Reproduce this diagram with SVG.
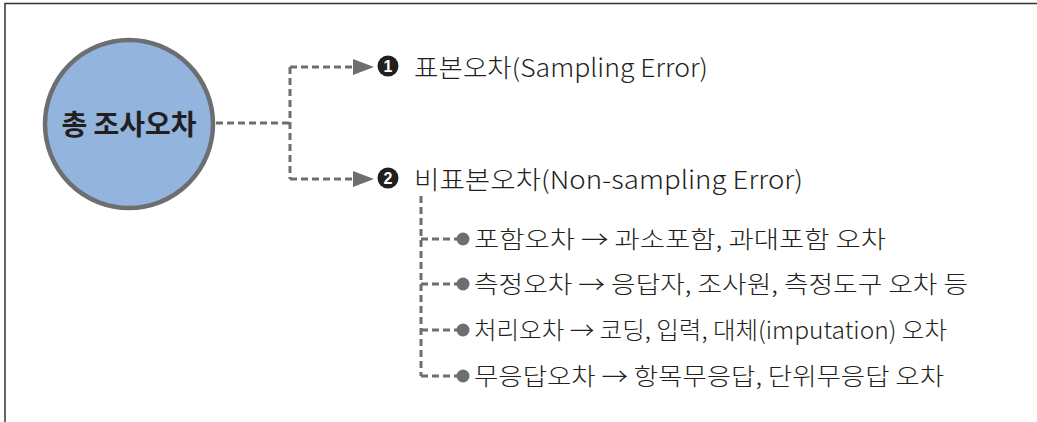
<svg xmlns="http://www.w3.org/2000/svg" width="1037" height="422" viewBox="0 0 1037 422">
  <style>
    .t { font-family: "Noto Sans CJK KR", "Noto Sans", sans-serif; fill: #231f20; font-weight: 300; }
    .h { font-size: 25px; }
    .r { font-size: 24px; }
    .c { stroke: #6d6e71; stroke-width: 3; fill: none; stroke-dasharray: 7 4; }
    .nb { fill: #231f20; }
    .nt { font-family: "Liberation Sans", sans-serif; font-size: 16px; font-weight: bold; fill: #ffffff; }
  </style>
  <defs>
    <marker id="arr" markerWidth="22" markerHeight="16" refX="0" refY="8" orient="auto" markerUnits="userSpaceOnUse">
      <path d="M0,0 L21,8 L0,16 Z" fill="#6d6e71"/>
    </marker>
  </defs>
  <rect width="1037" height="422" fill="#ffffff"/>
  <g id="frame">
    <path d="M5,422 L5,3.5 L1037,3.5" fill="none" stroke="#333333" stroke-width="1.5"/>
  </g>
  <g id="connectors">
    <path class="c" d="M216,123 L290,123"/>
    <path class="c" d="M290,67 L290,179"/>
    <path class="c" d="M290,67 L353,67" marker-end="url(#arr)"/>
    <path class="c" d="M290,179 L353,179" marker-end="url(#arr)"/>
    <path class="c" d="M421,196 L421,376"/>
    <path class="c" d="M421,239 L458,239"/>
    <path class="c" d="M421,284 L458,284"/>
    <path class="c" d="M421,330 L458,330"/>
    <path class="c" d="M421,376 L458,376"/>
    <g fill="#6d6e71">
      <circle cx="463" cy="239" r="6.5"/>
      <circle cx="463" cy="284" r="6.5"/>
      <circle cx="463" cy="330" r="6.5"/>
      <circle cx="463" cy="376" r="6.5"/>
    </g>
  </g>
  <g id="total">
    <circle cx="129" cy="124" r="84" fill="#93b4dd" stroke="#6d6e71" stroke-width="4.5"/>
    <text x="129" y="135" text-anchor="middle" font-family="Noto Sans CJK KR, sans-serif" font-size="28" font-weight="bold" fill="#231f20">총 조사오차</text>
  </g>
  <g id="sampling">
    <circle class="nb" cx="388" cy="66" r="10.5"/>
    <text class="nt" x="388" y="72" text-anchor="middle">1</text>
    <text class="t h" x="414" y="77" textLength="294" lengthAdjust="spacingAndGlyphs">표본오차(Sampling Error)</text>
  </g>
  <g id="nonsampling">
    <circle class="nb" cx="388" cy="178" r="10.5"/>
    <text class="nt" x="388" y="184" text-anchor="middle">2</text>
    <text class="t h" x="414" y="189" textLength="389" lengthAdjust="spacingAndGlyphs">비표본오차(Non-sampling Error)</text>
  </g>
  <g id="coverage">
    <text class="t r" x="474" y="248" textLength="412" lengthAdjust="spacingAndGlyphs">포함오차 → 과소포함, 과대포함 오차</text>
  </g>
  <g id="measurement">
    <text class="t r" x="474" y="293" textLength="494" lengthAdjust="spacingAndGlyphs">측정오차 → 응답자, 조사원, 측정도구 오차 등</text>
  </g>
  <g id="processing">
    <text class="t r" x="474" y="339" textLength="473" lengthAdjust="spacingAndGlyphs">처리오차 → 코딩, 입력, 대체(imputation) 오차</text>
  </g>
  <g id="nonresponse">
    <text class="t r" x="474" y="385" textLength="470" lengthAdjust="spacingAndGlyphs">무응답오차 → 항목무응답, 단위무응답 오차</text>
  </g>
</svg>
